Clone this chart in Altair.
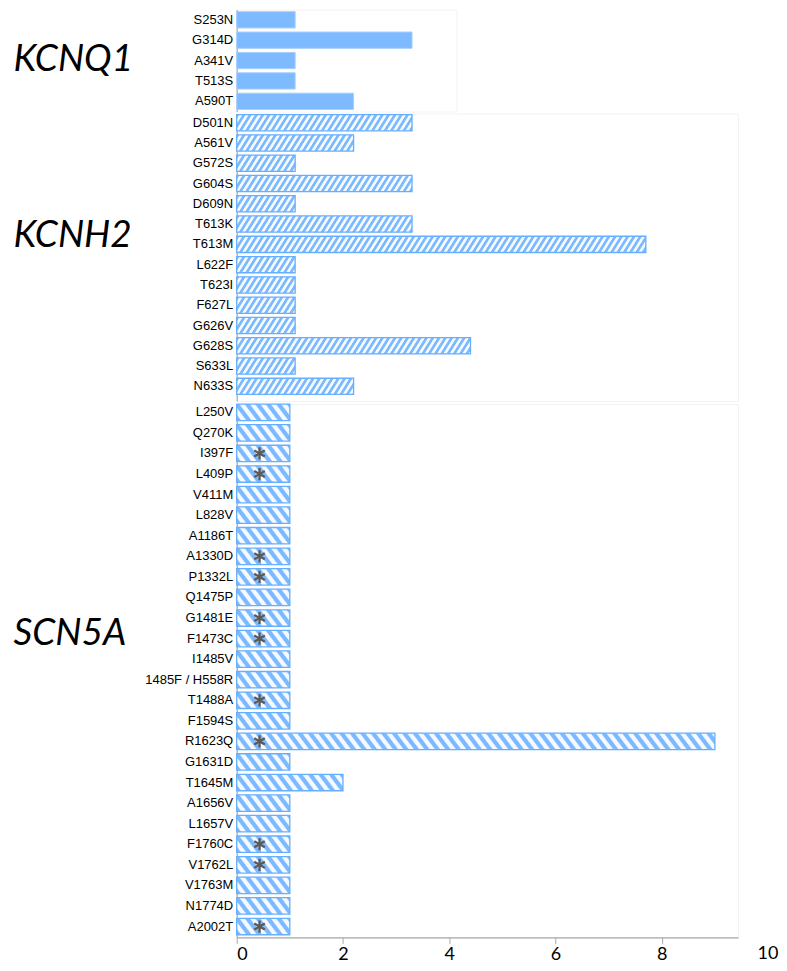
import math
import altair as alt
import pandas as pd

# ---------------- data ----------------
kcnq1_labels = ["S253N", "G314D", "A341V", "T513S", "A590T"]
kcnq1_values = [1.1, 3.3, 1.1, 1.1, 2.2]

kcnh2_labels = ["D501N", "A561V", "G572S", "G604S", "D609N", "T613K", "T613M",
                "L622F", "T623I", "F627L", "G626V", "G628S", "S633L", "N633S"]
kcnh2_values = [3.3, 2.2, 1.1, 3.3, 1.1, 3.3, 7.7, 1.1, 1.1, 1.1, 1.1, 4.4, 1.1, 2.2]

scn5a_labels = ["L250V", "Q270K", "I397F", "L409P", "V411M", "L828V", "A1186T",
                "A1330D", "P1332L", "Q1475P", "G1481E", "F1473C", "I1485V",
                "1485F / H558R", "T1488A", "F1594S", "R1623Q", "G1631D", "T1645M",
                "A1656V", "L1657V", "F1760C", "V1762L", "V1763M", "N1774D", "A2002T"]
scn5a_values = [1, 1, 1, 1, 1, 1, 1, 1, 1, 1, 1, 1, 1, 1, 1, 1, 9, 1, 2,
                1, 1, 1, 1, 1, 1, 1]
scn5a_star = [False, False, True, True, False, False, False, True, True, False,
              True, True, False, False, True, False, True, False, False,
              False, False, True, True, False, False, True]

x_ticks = [0, 2, 4, 6, 8, 10]

# ---------------- styles ----------------
BLUE = "#7cbaff"
WHITE = "#f6faff"
STROKE = "#66aeff"
PX_PER_UNIT = 53.2
PLOT_W = 502
X_MAX = PLOT_W / PX_PER_UNIT
Q1_W = 220
Q1_MAX = Q1_W / PX_PER_UNIT
H1, H2, H3 = 102, 288, 534
P_IN = 0.2
# (paddingOuter, align) per panel
PAD1 = (0.1, 0.5)
PAD2 = (0.19, 0.139)
PAD3 = (0.065, 0.0)
TICK = 6
LPAD = 2

LABEL_FONT = "Liberation Sans"
GENE_FONT = "Lato"
ASTERISK = "M0,-1L0,1M-0.866,-0.5L0.866,0.5M-0.866,0.5L0.866,-0.5"


def bandwidth(h, n, po):
    step = h / (n - P_IN + 2 * po)
    return step * (1 - P_IN)


def stripe_gradient(value, H, angle, hp, direction):
    W = max(value * PX_PER_UNIT, 1.0)
    a = math.radians(angle)
    sa, ca = math.sin(a), math.cos(a)
    P = hp * sa
    if direction == "/":
        n0, n1, x1, y1 = sa, ca, 0.0, 0.0
    else:
        n0, n1, x1, y1 = sa, -ca, 0.0, 1.0
    R = W * sa + H * ca
    k = R / (n0 * n0 * W * W + n1 * n1 * H * H)
    x2 = x1 + k * n0 * W
    y2 = y1 + k * n1 * H
    step = P / R
    stops = []
    i = 0
    last = BLUE
    while i * step < 1:
        b = i * step
        for f, c in [(0.0, BLUE), (0.36, BLUE), (0.5, WHITE), (0.86, WHITE)]:
            o = b + f * step
            if o <= 1:
                stops.append(alt.GradientStop(color=c, offset=round(o, 5)))
                last = c
        i += 1
    stops.append(alt.GradientStop(color=last, offset=1))
    return alt.LinearGradient(gradient="linear", stops=stops,
                              x1=x1, y1=y1, x2=round(x2, 5), y2=round(y2, 5))


def y_enc(labels, gene, title_y, pad):
    return alt.Y("label:N", sort=labels,
                 scale=alt.Scale(paddingInner=P_IN, paddingOuter=pad[0], align=pad[1]),
                 axis=alt.Axis(title=gene, titleAngle=0, titleAlign="left",
                               titleBaseline="middle", titleX=-224, titleY=title_y,
                               titleFont=GENE_FONT, titleFontSize=37,
                               titleFontStyle="italic", titleFontWeight="normal",
                               titleColor="#000000",
                               labelFont=LABEL_FONT, labelFontSize=13,
                               labelColor="#000000", labelPadding=4,
                               ticks=False, domainColor="#a8a8a8", domainWidth=1.2))


# ---------------- KCNQ1 ----------------
df1 = pd.DataFrame({"label": kcnq1_labels, "value": kcnq1_values})
c1 = alt.Chart(df1).mark_bar(fill="#7ebaff", stroke="#a6cfff", strokeWidth=1).encode(
    x=alt.X("value:Q", scale=alt.Scale(domain=[0, Q1_MAX], nice=False), axis=None),
    y=y_enc(kcnq1_labels, "KCNQ1", 50, PAD1),
).properties(width=Q1_W, height=H1)

# ---------------- KCNH2 ----------------
df2 = pd.DataFrame({"label": kcnh2_labels, "value": kcnh2_values})
bw2 = bandwidth(H2, len(kcnh2_labels), PAD2[0])
layers2 = []
for v in sorted(set(kcnh2_values)):
    layers2.append(
        alt.Chart(df2).transform_filter(alt.datum.value == v).mark_bar(
            fill=stripe_gradient(v, bw2, 58, 6.3, "/"), stroke=STROKE, strokeWidth=1.3
        ).encode(
            x=alt.X("value:Q", scale=alt.Scale(domain=[0, X_MAX], nice=False), axis=None),
            y=y_enc(kcnh2_labels, "KCNH2", 122, PAD2),
        )
    )
c2 = alt.layer(*layers2).properties(width=PLOT_W, height=H2)

# ---------------- SCN5A ----------------
df3 = pd.DataFrame({"label": scn5a_labels, "value": scn5a_values, "star": scn5a_star})
bw3 = bandwidth(H3, len(scn5a_labels), PAD3[0])
xaxis = alt.Axis(values=[t for t in x_ticks if t <= X_MAX], grid=False, title=None,
                 domainColor="#a8a8a8", domainWidth=1.2, tickColor="#a8a8a8",
                 tickSize=TICK, labelFont=GENE_FONT, labelFontSize=18,
                 labelColor="#000000", labelPadding=LPAD)
xenc = alt.X("value:Q", scale=alt.Scale(domain=[0, X_MAX], nice=False), axis=xaxis)
layers3 = []
for v in sorted(set(scn5a_values)):
    layers3.append(
        alt.Chart(df3).transform_filter(alt.datum.value == v).mark_bar(
            fill=stripe_gradient(v, bw3, 53, 10.5, "\\"), stroke=STROKE, strokeWidth=1.3
        ).encode(x=xenc, y=y_enc(scn5a_labels, "SCN5A", 230, PAD3))
    )
stars = alt.Chart(df3).transform_filter(alt.datum.star).transform_calculate(
    sx="0.43"
).mark_point(shape=ASTERISK, size=150, stroke="#5a5a5a", strokeWidth=2.3,
             filled=False, opacity=1).encode(
    x=alt.X("sx:Q"), y=alt.Y("label:N", sort=scn5a_labels)
)
df_extra = pd.DataFrame({"tick": [t for t in x_ticks if t > X_MAX]})
extra = alt.Chart(df_extra).mark_text(font=GENE_FONT, fontSize=18, color="#000000",
                                      baseline="top", align="center").encode(
    x=alt.X("tick:Q"), y=alt.value(H3 + TICK + LPAD), text="tick:Q"
)
c3 = alt.layer(*layers3, stars, extra).properties(width=PLOT_W, height=H3)

chart = alt.vconcat(c1, c2, c3, spacing=0).properties(
    padding={"left": 4, "top": 0, "right": 0, "bottom": 0}
).configure_view(stroke="#f3f3f3", strokeWidth=1).configure_concat(spacing=0)

chart.save("out.html", embed_options={"renderer": "svg", "actions": False})
